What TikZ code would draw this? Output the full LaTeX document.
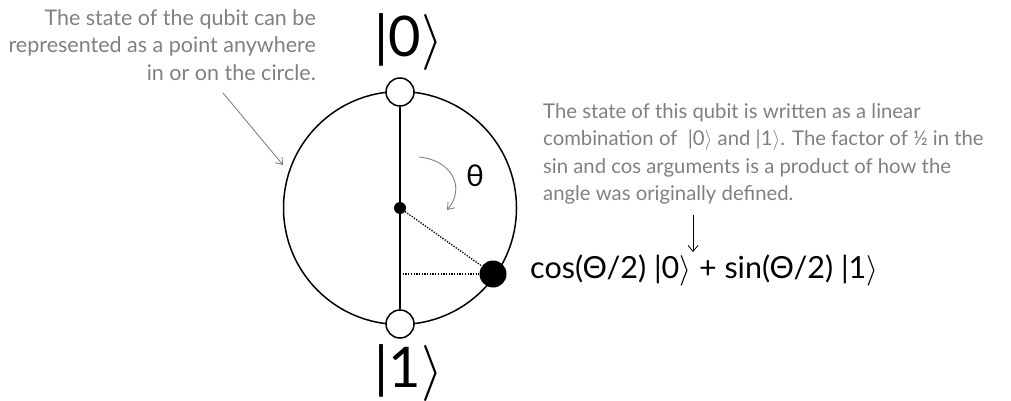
\RequirePackage{fix-cm}
\documentclass[tikz,border=0pt]{standalone}
\usepackage{fontspec}
\setmainfont{Lato}
\usetikzlibrary{arrows.meta,positioning}
\definecolor{noteGray}{RGB}{128,128,128}
\newcommand{\qket}[1]{|#1\ensuremath{\rangle}}

\begin{document}
\begin{tikzpicture}[x=1pt,y=-1pt,
    note/.style={text=noteGray,font=\fontsize{21.5}{27.5}\selectfont,inner sep=0pt},
    notearrow/.style={draw=noteGray,line width=0.9pt,-{Straight Barb[length=6pt,width=9pt]}},
    basis/.style={circle,draw,line width=1.5pt,fill=white,minimum size=28pt,inner sep=0pt},
    ketlabel/.style={font=\fontsize{56}{60}\selectfont,inner sep=0pt},
    guide/.style={line width=1.3pt,dash pattern=on 1.3pt off 1.4pt}]
  \useasboundingbox (0,0) rectangle (1011,401);
  % sphere (drawn as a circle)
  \draw[line width=1.5pt] (400,208) circle (116.5);
  \node[circle,fill,minimum size=12pt,inner sep=0pt] (c) at (400,208) {};
  \node[basis] (k0) at (400,92) {};
  \node[basis] (k1) at (400,324) {};
  \draw[line width=2.8pt] (k0) -- (k1);
  % state vector
  \node[circle,fill,minimum size=27pt,inner sep=0pt] (s) at (493,274) {};
  \coordinate (f) at (400,274);
  \draw[guide] (c) -- (s);
  \draw[guide] (f) -- (s);
  % angle
  \coordinate (t1) at (419,157);
  \coordinate (t2) at (447,210);
  \draw[notearrow] (t1) .. controls (452,160) and (466,188) .. (t2);
  \node[font=\fontsize{30}{32}\selectfont] (theta) at (475,176) {θ};
  % kets
  \node[ketlabel] (l0) at (409,42) {\qket{0}};
  \node[ketlabel] (l1) at (409,373) {\qket{1}};
  % notes
  \node[note,align=right,anchor=east] (n1) at (316,45)
    {The state of the qubit can be\\represented as a point anywhere\\in or on the circle.};
  \coordinate (a1) at (223,93);
  \coordinate (a2) at (283,165);
  \draw[notearrow] (a1) -- (a2);
  \node[note,font=\fontsize{20.3}{27.5}\selectfont,align=left,anchor=west] (n2) at (543,154)
    {The state of this qubit is written as a linear\\combination of \ \qket{0} and \qket{1}. The factor of ½ in the\\sin and cos arguments is a product of how the\\angle was originally defined.};
  \node[font=\fontsize{30.5}{32}\selectfont,anchor=west,inner sep=0pt] (eq) at (530,270)
    {cos(Θ/2) \qket{0} + sin(Θ/2) \qket{1}};
  \coordinate (d1) at (693,215);
  \coordinate (d2) at (693,252);
  \draw[line width=0.8pt,-{Straight Barb[length=6pt,width=10pt]}] (d1) -- (d2);
\end{tikzpicture}
\end{document}
